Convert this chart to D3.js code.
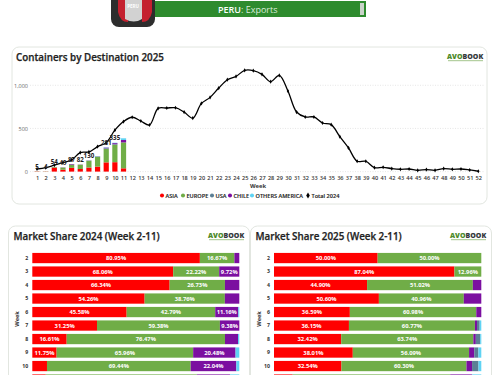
<!DOCTYPE html>
<html>
<head>
<meta charset="utf-8">
<script src="https://cdn.jsdelivr.net/npm/d3@7"></script>
<style>
  html, body { margin: 0; padding: 0; background: #fff; overflow: hidden; }
  svg { display: block; font-family: "Open Sans", sans-serif; }
</style>
</head>
<body>
<div id="chart"></div>
<script>
const width = 500;
const height = 375;

// top chart data
const weeks = d3.range(1, 53);
const total2024 = [30, 45, 75, 105, 135, 220, 228, 290, 335, 480, 580, 630, 586, 540, 733, 737,
  740, 690, 620, 790, 860, 968, 1065, 1103, 1173, 1170, 1127, 1042, 1115, 934, 690, 633, 633,
  563, 544, 405, 274, 120, 120, 46, 50, 35, 27, 30, 15, 23, 15, 35, 27, 30, 19, 4];
const barWeeks = d3.range(1, 12);
const asia = [3, 2, 47, 22, 44, 30, 47, 58, 107, 109, 38];
const europe = [2, 2, 7, 25, 36, 50, 79, 114, 158, 202, 300];
const usa = [0, 0, 0, 0, 0, 0, 1, 3, 6, 7, 0];
const chile = [0, 0, 0, 2, 7, 2, 2, 2, 7, 12, 28];
const othersAmerica = [0, 0, 0, 0, 0, 0, 1, 2, 3, 5, 20];
const barLabels = ["5", "4", "54", "49", "87", "82", "130", "", "281", "335", ""];

// share data, weeks 2-11
const shareWeeks = [2, 3, 4, 5, 6, 7, 8, 9, 10, 11];
const asia24 = [80.95, 68.06, 66.34, 54.26, 45.58, 31.25, 16.61, 11.75, 7.09, 6.5];
const europe24 = [16.67, 22.22, 26.73, 38.76, 42.79, 59.38, 76.47, 65.96, 69.44, 73];
const chile24 = [2.38, 9.72, 6.93, 6.98, 11.16, 9.38, 6.3, 20.48, 22.04, 16];
const usa24 = [0, 0, 0, 0, 0, 0, 0, 0, 0, 0];
const others24 = [0, 0, 0, 0, 0.47, 0, 0.62, 1.81, 1.43, 4.5];
const asia25 = [50, 87.04, 44.9, 50.6, 36.59, 36.15, 32.42, 38.01, 32.54, 9];
const europe25 = [50, 12.96, 51.02, 40.96, 60.98, 60.77, 63.74, 56.09, 60.3, 76];
const chile25 = [0, 0, 4.08, 8.44, 2.43, 1, 1.2, 2.5, 2.7, 10.5];
const usa25 = [0, 0, 0, 0, 0, 1.3, 2.1, 2, 3.1, 0];
const others25 = [0, 0, 0, 0, 0, 0.78, 0.54, 1.4, 1.36, 4.5];

const colors = { asia: "#ff0000", europe: "#70ad47", usa: "#5b7f95", chile: "#7b0fa0", others: "#5fd3f3" };
const legendNames = ["ASIA", "EUROPE", "USA", "CHILE", "OTHERS AMERICA", "Total 2024"];
const legendColors = ["#ff0000", "#70ad47", "#5b7f95", "#7b0fa0", "#5fd3f3", "#000"];
const legendX = [162, 183, 212, 230, 252, 308];

const svg = d3.select("#chart").append("svg")
  .attr("width", width)
  .attr("height", height);

////////// header //////////
svg.append("rect").attr("x", 153).attr("y", 1).attr("width", 213).attr("height", 16).attr("fill", "#2e8b2e");
svg.append("rect").attr("x", 360).attr("y", 3).attr("width", 4).attr("height", 12).attr("fill", "#c9d3c9");
svg.append("rect").attr("x", 111).attr("y", -14).attr("width", 44).attr("height", 41).attr("rx", 8).attr("fill", "#2d2d2d");
svg.append("path").attr("d", "M118,-4H128V22Q120,22 118,12Z").attr("fill", "#c4202f");
svg.append("path").attr("d", "M142,-4H152V12Q150,22 142,22Z").attr("fill", "#c4202f");
svg.append("path").attr("d", "M125,-4H142V19Q134,24 125,19Z").attr("fill", "#d2d2d2");
svg.append("text").attr("x", 133).attr("y", 8).attr("text-anchor", "middle")
  .attr("font-size", 4.5).attr("font-weight", 700).attr("fill", "#fff").text("PERU");
const headerText = svg.append("text").attr("x", 218).attr("y", 12.8)
  .attr("font-size", 9).attr("fill", "#fff");
headerText.append("tspan").attr("font-weight", 600).text("PERU");
headerText.append("tspan").attr("fill", "#dcebdc").text(": Exports");

////////// helpers //////////
function card(x, y, w, h) {
  svg.append("rect").attr("x", x).attr("y", y).attr("width", w).attr("height", h).attr("rx", 7)
    .attr("fill", "#fff").attr("stroke", "#e2e6e0").attr("stroke-width", 1);
}

function logo(x, y) {
  const t = svg.append("text").attr("x", x).attr("y", y)
    .attr("font-size", 7).attr("font-weight", 800).attr("font-family", "'Open Sans', sans-serif");
  t.append("tspan").attr("fill", "#4f8a2b").text("AVO");
  t.append("tspan").attr("fill", "#33383a").text("BOOK");
  svg.append("line").attr("x1", x + 1).attr("x2", x + 36).attr("y1", y + 2.2).attr("y2", y + 2.2)
    .attr("stroke", "#8bb56f").attr("stroke-width", 0.8);
}

function title(x, y, s) {
  svg.append("text").attr("x", x).attr("y", y)
    .attr("font-size", 9.8).attr("font-weight", 600).attr("fill", "#222")
    .attr("stroke", "#222").attr("stroke-width", 0.25).text(s);
}

////////// containers chart //////////
card(12, 47, 475, 157);
title(16, 60.5, "Containers by Destination 2025");
logo(447, 58.5);

const x = d3.scalePoint().domain(weeks).range([37, 478.3]);
const y = d3.scaleLinear().domain([0, 1000]).range([171.6, 85.3]);

const gridG = svg.append("g");
gridG.selectAll("line").data([0, 500, 1000]).join("line")
  .attr("x1", 30).attr("x2", 484)
  .attr("y1", d => y(d)).attr("y2", d => y(d))
  .attr("stroke", "#dcdcdc").attr("stroke-width", 0.7).attr("stroke-dasharray", "1 1.5");

const yAxis = svg.append("g").attr("transform", "translate(28,0)")
  .call(d3.axisLeft(y).tickValues([0, 500, 1000]).tickSize(0).tickPadding(0));
yAxis.select(".domain").remove();
yAxis.selectAll("text").attr("font-size", 5.5).attr("fill", "#666").attr("font-family", "'Open Sans', sans-serif");

const xAxis = svg.append("g").attr("transform", "translate(0,175)")
  .call(d3.axisBottom(x).tickSize(0).tickPadding(1));
xAxis.select(".domain").remove();
xAxis.selectAll("text").attr("font-size", 5.6).attr("font-weight", 600).attr("fill", "#333").attr("font-family", "'Open Sans', sans-serif");

const stackRows = barWeeks.map((w, i) => ({
  week: w, asia: asia[i], europe: europe[i], usa: usa[i], chile: chile[i], others: othersAmerica[i], label: barLabels[i]
}));
const topKeys = ["asia", "europe", "usa", "chile", "others"];
const topSeries = d3.stack().keys(topKeys)(stackRows);

svg.append("g").selectAll("g").data(topSeries).join("g")
  .attr("fill", d => colors[d.key])
  .selectAll("rect").data(d => d).join("rect")
    .attr("x", d => x(d.data.week) - 2.6)
    .attr("width", 5.2)
    .attr("y", d => y(d[1]))
    .attr("height", d => y(d[0]) - y(d[1]));

const lineGen = d3.line()
  .x((d, i) => x(weeks[i]))
  .y(d => y(d))
  .curve(d3.curveCatmullRom.alpha(0.5));

svg.append("path").datum(total2024)
  .attr("d", lineGen)
  .attr("fill", "none").attr("stroke", "#000").attr("stroke-width", 1.3);

svg.append("g").selectAll("path").data(total2024).join("path")
  .attr("d", d3.symbol(d3.symbolDiamond, 5))
  .attr("transform", (d, i) => `translate(${x(weeks[i])},${y(d)})`)
  .attr("fill", "#000");

svg.append("g").selectAll("text").data(stackRows).join("text")
  .attr("x", d => x(d.week))
  .attr("y", d => y(d.asia + d.europe + d.usa + d.chile + d.others) - 2.5)
  .attr("text-anchor", "middle")
  .attr("font-size", 6.2).attr("font-weight", 700).attr("fill", "#222")
  .text(d => d.label);

svg.append("text").attr("x", 258).attr("y", 188).attr("text-anchor", "middle")
  .attr("font-size", 5.8).attr("font-weight", 700).attr("fill", "#333").text("Week");

const legend = svg.append("g").selectAll("g").data(legendNames).join("g")
  .attr("transform", (d, i) => `translate(${legendX[i]},195.5)`);
legend.append("path")
  .attr("d", (d, i) => d3.symbol(i === 5 ? d3.symbolDiamond : d3.symbolCircle, i === 5 ? 11 : 13)())
  .attr("fill", (d, i) => legendColors[i]);
legend.append("text").attr("x", 3.5).attr("y", 2.1)
  .attr("font-size", 5.6).attr("font-weight", 600).attr("fill", "#222")
  .attr("stroke", "#222").attr("stroke-width", 0.12).text(d => d);

////////// share charts //////////
function shareChart(opt) {
  card(opt.cardX, 226, 241, 160);
  title(opt.cardX + 5, 240, opt.title);
  logo(opt.cardX + 199.5, 237.5);

  const xs = d3.scaleLinear().domain([0, 100]).range(opt.range);
  const ys = d3.scaleBand().domain(shareWeeks).range([251.3, 386.3]).paddingInner(0.24).paddingOuter(0.12);

  const rows = shareWeeks.map((w, i) => ({
    week: w, asia: opt.asia[i], europe: opt.europe[i], chile: opt.chile[i], usa: opt.usa[i], others: opt.others[i]
  }));
  const keys = ["asia", "europe", "chile", "usa", "others"];
  const series = d3.stack().keys(keys)(rows);

  const g = svg.append("g");
  const groups = g.selectAll("g").data(series).join("g").attr("fill", d => colors[d.key]);
  groups.selectAll("rect").data(d => d).join("rect")
    .attr("x", d => xs(d[0]))
    .attr("y", d => ys(d.data.week))
    .attr("width", d => xs(d[1]) - xs(d[0]))
    .attr("height", ys.bandwidth());

  // labels only where the segment is wide enough, week 11 falls below the window
  groups.selectAll("text").data(d => d).join("text")
    .attr("x", d => (xs(d[0]) + xs(d[1])) / 2)
    .attr("y", d => ys(d.data.week) + ys.bandwidth() / 2 + 2)
    .attr("text-anchor", "middle")
    .attr("font-size", 5.8).attr("font-weight", 700).attr("fill", "#fff")
    .text(d => {
      const v = d[1] - d[0];
      return v >= 9 && d.data.week !== 11 ? v.toFixed(2) + "%" : "";
    });

  const axis = svg.append("g").attr("transform", `translate(${opt.range[0] - 4},0)`)
    .call(d3.axisLeft(ys).tickValues(shareWeeks.slice(0, 9)).tickSize(0).tickPadding(0));
  axis.select(".domain").remove();
  axis.selectAll("text").attr("font-size", 5.2).attr("font-weight", 700).attr("fill", "#333")
    .attr("font-family", "'Open Sans', sans-serif");

  svg.append("text")
    .attr("transform", `translate(${opt.range[0] - 13.5},319) rotate(-90)`)
    .attr("text-anchor", "middle")
    .attr("font-size", 5.6).attr("font-weight", 700).attr("fill", "#333").text("Week");
}

shareChart({
  cardX: 8.5, title: "Market Share 2024 (Week 2-11)", range: [32.3, 239.3],
  asia: asia24, europe: europe24, chile: chile24, usa: usa24, others: others24
});
shareChart({
  cardX: 250.5, title: "Market Share 2025 (Week 2-11)", range: [274, 481.3],
  asia: asia25, europe: europe25, chile: chile25, usa: usa25, others: others25
});
</script>
</body>
</html>
